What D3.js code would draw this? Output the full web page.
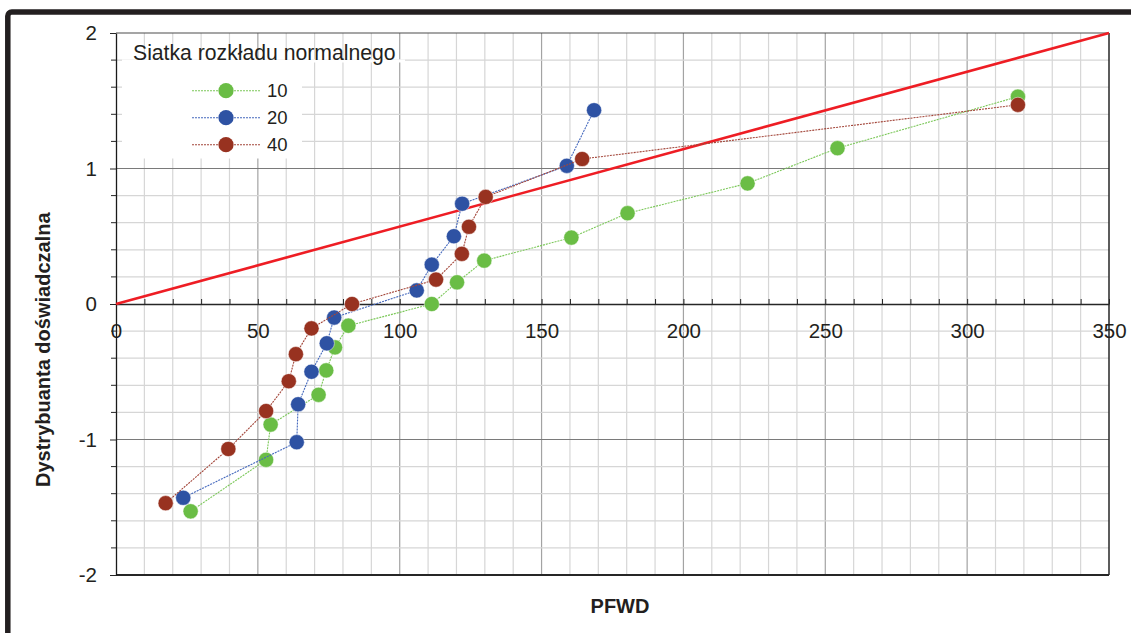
<!DOCTYPE html>
<html>
<head>
<meta charset="utf-8">
<script src="https://cdn.jsdelivr.net/npm/d3@7"></script>
<style>
  html, body { margin: 0; padding: 0; background: #fff; }
  svg { display: block; font-family: "Liberation Sans", Arial, sans-serif; }
</style>
</head>
<body>
<svg id="chart" width="1131" height="633"></svg>
<script>
// PFWD values of each grid variant and their empirical normal scores
const pfwd10 = [26.3, 52.9, 54.5, 71.4, 74.1, 77.2, 81.9, 111.3, 120.2, 129.8, 160.5, 180.3, 222.6, 254.3, 317.9];
const score10 = [-1.53, -1.15, -0.89, -0.67, -0.49, -0.32, -0.16, 0, 0.16, 0.32, 0.49, 0.67, 0.89, 1.15, 1.53];

const pfwd20 = [23.7, 63.7, 64.2, 68.9, 74.3, 76.9, 106.0, 111.3, 119.1, 122.0, 158.9, 168.5];
const score20 = [-1.43, -1.02, -0.74, -0.50, -0.29, -0.10, 0.10, 0.29, 0.50, 0.74, 1.02, 1.43];

const pfwd40 = [17.5, 39.6, 52.9, 60.9, 63.4, 68.9, 83.2, 112.8, 121.9, 124.4, 130.3, 164.3, 317.9];
const score40 = [-1.47, -1.07, -0.79, -0.57, -0.37, -0.18, 0, 0.18, 0.37, 0.57, 0.79, 1.07, 1.47];

const seriesNames = ["10", "20", "40"];
const referenceLine = [[0, 0], [350, 2]];

const xTicks = [0, 50, 100, 150, 200, 250, 300, 350];
const yTicks = [-2, -1, 0, 1, 2];

const legendTitle = "Siatka rozkładu normalnego";
const xTitle = "PFWD";
const yTitle = "Dystrybuanta doświadczalna";

// ---- layout ----
const svg = d3.select("#chart");
const x = d3.scaleLinear().domain([0, 350]).range([116, 1109]);
const y = d3.scaleLinear().domain([-2, 2]).range([575, 33]);

const styles = [
  { fill: "#6abd45", line: "#7cc85a" },
  { fill: "#2e52a3", line: "#4468bd" },
  { fill: "#983220", line: "#a3463a" }
];
const series = [
  { name: seriesNames[0], xs: pfwd10, ys: score10 },
  { name: seriesNames[1], xs: pfwd20, ys: score20 },
  { name: seriesNames[2], xs: pfwd40, ys: score40 }
];

// outer frame
svg.append("rect")
  .attr("x", 7.8).attr("y", 12).attr("width", 1200).attr("height", 700)
  .attr("rx", 4)
  .attr("fill", "none").attr("stroke", "#231f20").attr("stroke-width", 5.5);

// grid
const grid = svg.append("g");
d3.range(10, 350, 10).forEach(v => {
  const major = v % 50 === 0;
  grid.append("line")
    .attr("x1", x(v)).attr("x2", x(v)).attr("y1", y(2)).attr("y2", y(-2))
    .attr("stroke", major ? "#a3a3a3" : "#d6d6d6").attr("stroke-width", 1.2);
});
d3.range(-1.8, 2, 0.2).forEach(v => {
  const r = Math.round(v * 10) / 10;
  if (r === 0) return;
  const major = Number.isInteger(r);
  grid.append("line")
    .attr("x1", x(0)).attr("x2", x(350)).attr("y1", y(r)).attr("y2", y(r))
    .attr("stroke", major ? "#7a7a7a" : "#d6d6d6").attr("stroke-width", 1.2);
});

// plot borders
svg.append("line").attr("x1", x(0)).attr("x2", x(350)).attr("y1", y(2)).attr("y2", y(2))
  .attr("stroke", "#4d4d4d").attr("stroke-width", 1.2);
svg.append("line").attr("x1", x(350)).attr("x2", x(350)).attr("y1", y(2)).attr("y2", y(-2))
  .attr("stroke", "#262626").attr("stroke-width", 1.5);
svg.append("line").attr("x1", x(0)).attr("x2", x(350)).attr("y1", y(-2)).attr("y2", y(-2))
  .attr("stroke", "#262626").attr("stroke-width", 2);

// legend background
const legendBg = svg.append("g").attr("fill", "#fff");
legendBg.append("rect").attr("x", 122).attr("y", 59.5).attr("width", 180).attr("height", 99);
legendBg.append("rect").attr("x", 302).attr("y", 59.5).attr("width", 103).attr("height", 3);

// x axis through y = 0, ticks pointing up
const xAxis = d3.axisBottom(x)
  .tickValues(d3.range(0, 351, 10))
  .tickSizeInner(-5).tickSizeOuter(0).tickPadding(19)
  .tickFormat(d => xTicks.includes(d) ? d3.format("d")(d) : "");
const gx = svg.append("g").attr("transform", `translate(0,${y(0)})`).call(xAxis);
gx.select(".domain").attr("stroke", "#262626").attr("stroke-width", 1.5);
gx.selectAll(".tick line").attr("stroke", "#262626");
gx.selectAll(".tick text").attr("font-size", 20.5).attr("fill", "#231f20")
  .attr("font-family", "Liberation Sans, Arial, sans-serif");

// y axis at x = 0
const yAxis = d3.axisLeft(y)
  .tickValues(yTicks).tickSizeInner(6).tickSizeOuter(0).tickPadding(13)
  .tickFormat(d3.format("d"));
const gy = svg.append("g").attr("transform", `translate(${x(0)},0)`).call(yAxis);
gy.select(".domain").attr("stroke", "#1a1a1a").attr("stroke-width", 1.3);
gy.selectAll(".tick line").attr("stroke", "#262626");
gy.selectAll(".tick text").attr("font-size", 20.5).attr("fill", "#231f20")
  .attr("font-family", "Liberation Sans, Arial, sans-serif")
  .text(d => d < 0 ? "-" + Math.abs(d) : d);
// minor ticks on the y axis
gy.selectAll(".minor").data(d3.range(-1.8, 2, 0.2).filter(v => Math.abs(v - Math.round(v)) > 0.05))
  .enter().append("line").attr("class", "minor")
  .attr("x1", -5).attr("x2", 0).attr("y1", d => y(d)).attr("y2", d => y(d))
  .attr("stroke", "#262626");

// reference line
svg.append("line")
  .attr("x1", x(referenceLine[0][0])).attr("y1", y(referenceLine[0][1]))
  .attr("x2", x(referenceLine[1][0])).attr("y2", y(referenceLine[1][1]))
  .attr("stroke", "#ee1d24").attr("stroke-width", 2.6);

// series
const lineGen = d3.line().x(d => x(d[0])).y(d => y(d[1]));
series.forEach((s, i) => {
  const pts = s.xs.map((v, k) => [v, s.ys[k]]);
  const g = svg.append("g");
  g.append("path").datum(pts).attr("d", lineGen)
    .attr("fill", "none").attr("stroke", styles[i].line)
    .attr("stroke-width", 1.1).attr("stroke-dasharray", "2,1");
  g.selectAll("circle").data(pts).enter().append("circle")
    .attr("cx", d => x(d[0])).attr("cy", d => y(d[1])).attr("r", 7.6)
    .attr("fill", styles[i].fill)
    .attr("stroke", "#ffffff").attr("stroke-opacity", 0.6).attr("stroke-width", 0.8);
});

// legend
svg.append("text").attr("x", 133).attr("y", 60)
  .attr("font-size", 21.2).attr("fill", "#231f20").text(legendTitle);
series.forEach((s, i) => {
  const cy = 90.7 + i * 27;
  svg.append("line").attr("x1", 192).attr("x2", 260).attr("y1", cy).attr("y2", cy)
    .attr("stroke", styles[i].line).attr("stroke-width", 1.1).attr("stroke-dasharray", "2,1");
  svg.append("circle").attr("cx", 226).attr("cy", cy).attr("r", 7.6).attr("fill", styles[i].fill);
  svg.append("text").attr("x", 267).attr("y", cy + 6.6)
    .attr("font-size", 18.5).attr("fill", "#231f20").text(s.name);
});

// axis titles
svg.append("text").attr("x", 620).attr("y", 613).attr("text-anchor", "middle")
  .attr("font-size", 20).attr("font-weight", "bold").attr("fill", "#231f20").text(xTitle);
svg.append("text").attr("transform", "translate(50,487) rotate(-90)")
  .attr("font-size", 20).attr("font-weight", "bold").attr("fill", "#231f20").text(yTitle);
</script>
</body>
</html>
